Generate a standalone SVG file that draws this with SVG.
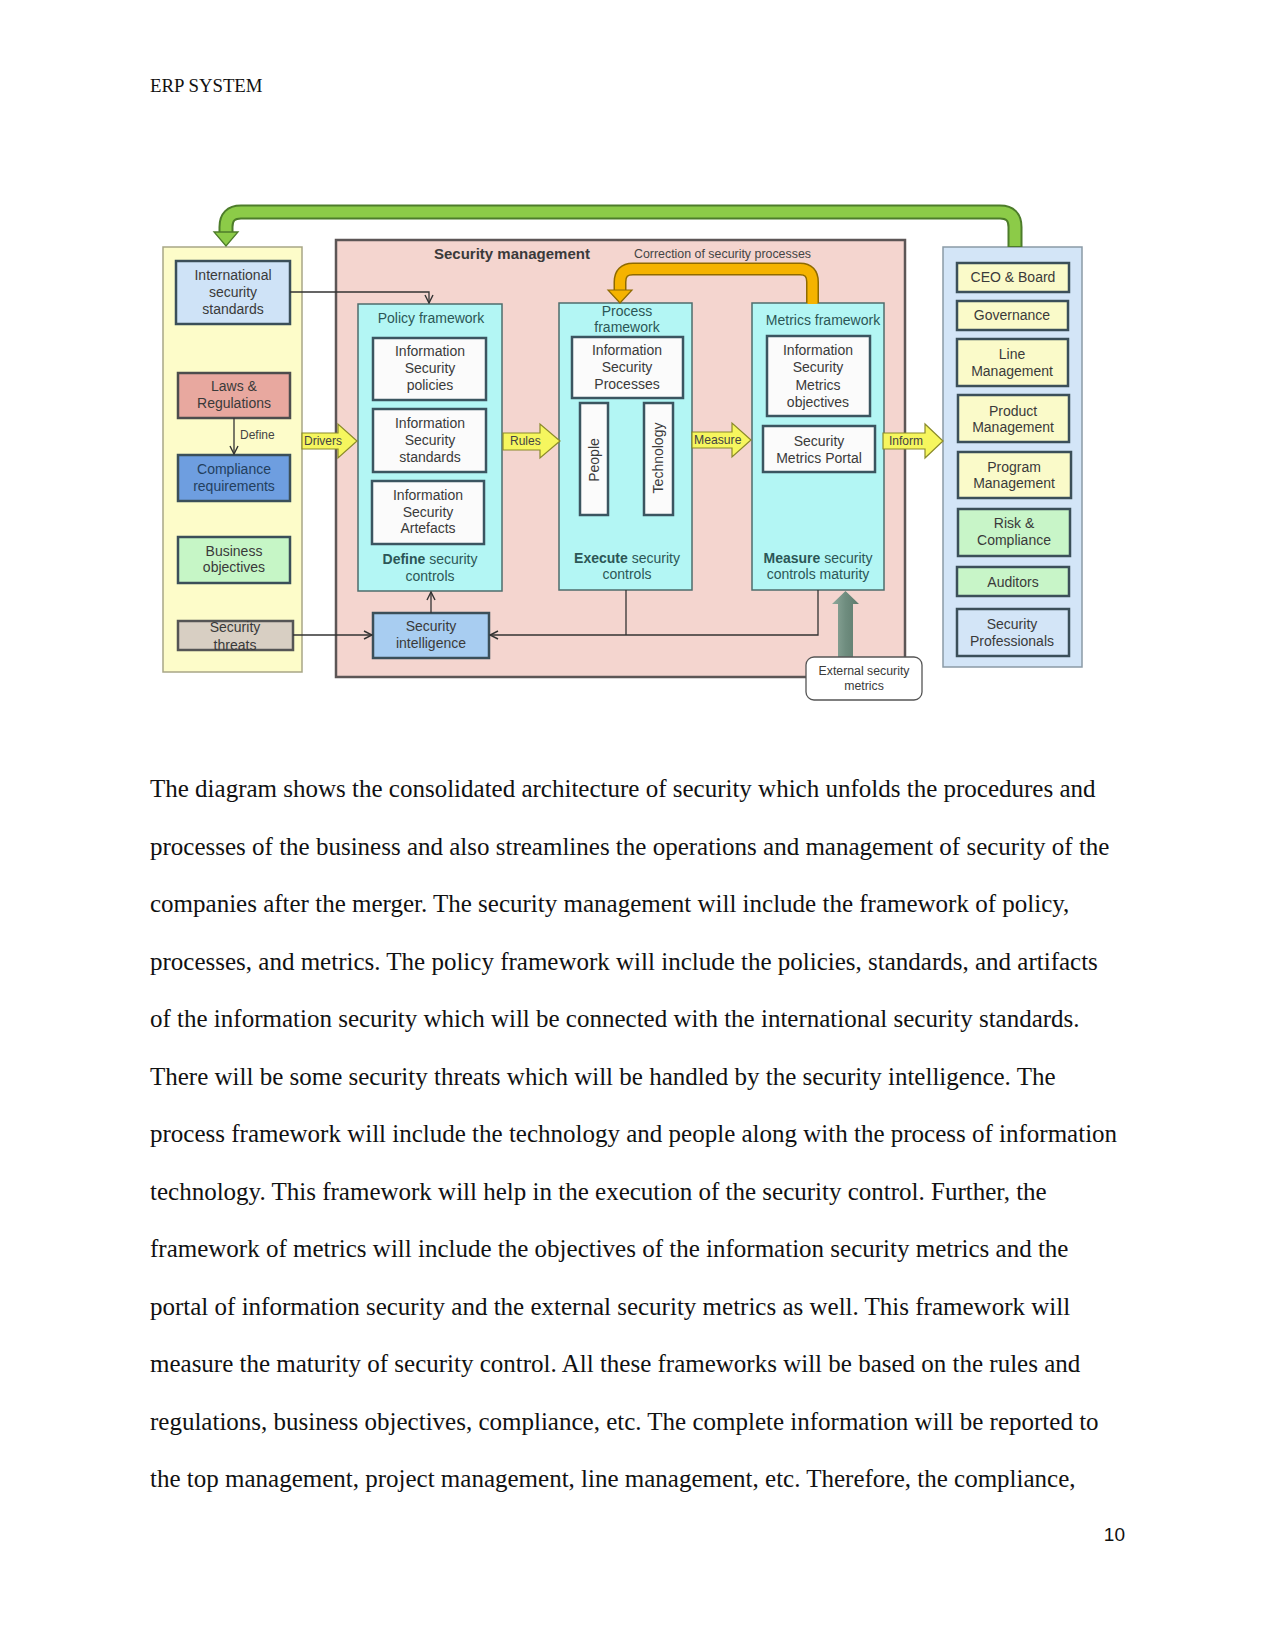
<svg xmlns="http://www.w3.org/2000/svg" width="1275" height="1651" viewBox="0 0 1275 1651">
<style>
.t{font-family:"Liberation Sans",Arial,sans-serif;font-size:14px;fill:#3a3a3a;text-anchor:middle}
.tl{font-family:"Liberation Sans",Arial,sans-serif;fill:#3a3a3a}
.teal{fill:#2c5656}
.b{font-weight:bold}
.box{stroke:#3b4f59;stroke-width:2.5}
.inner{fill:#fbfbfb;stroke:#3b5560;stroke-width:2.5}
.fw{fill:#b3f6f4;stroke:#4e6c6c;stroke-width:1.5}
.ya{fill:#f6f65e;stroke:#8a8a2a;stroke-width:1.2}
.ln{fill:none;stroke:#333;stroke-width:1.3}
.p{font-family:"Liberation Serif","Times New Roman",serif;font-size:25px;fill:#111}
</style>
<defs>
<marker id="v" viewBox="0 0 10 10" refX="9" refY="5" markerWidth="10" markerHeight="10" markerUnits="userSpaceOnUse" orient="auto">
<path d="M1,1 L9,5 L1,9" fill="none" stroke="#333" stroke-width="1.4"/>
</marker>
<linearGradient id="eg" x1="0" y1="0" x2="1" y2="0">
<stop offset="0" stop-color="#8fa99c"/><stop offset="0.5" stop-color="#6f8d7f"/><stop offset="1" stop-color="#5d7a6c"/>
</linearGradient>
</defs>
<rect width="1275" height="1651" fill="#fff"/>

<text x="150" y="92" font-family="Liberation Serif,serif" font-size="18.8" fill="#111">ERP SYSTEM</text>

<!-- panels -->
<g id="left-panel">
<rect x="163" y="247" width="139" height="425" fill="#fdfcc9" stroke="#a8a686" stroke-width="1.5"/>
</g>
<g id="security-management">
<rect x="336" y="240" width="569" height="437" fill="#f4d5cf" stroke="#5c5656" stroke-width="2.5"/>
<text class="tl b" x="434" y="259" font-size="15">Security management</text>
<text class="tl" x="634" y="258" font-size="12.4" style="fill:#444">Correction of security processes</text>
</g>
<g id="right-panel">
<rect x="943" y="247" width="139" height="420" fill="#d3e5f7" stroke="#8b9aa6" stroke-width="1.5"/>
</g>

<!-- left nodes -->
<g id="intl-standards">
<rect class="box" x="176" y="261" width="114" height="63" fill="#cfe3f7"/>
<text class="t" x="233" y="280">International</text>
<text class="t" x="233" y="297">security</text>
<text class="t" x="233" y="314">standards</text>
</g>
<g id="laws">
<rect class="box" x="178" y="373" width="112" height="45" fill="#e8a89f" style="stroke:#4d4d4d"/>
<text class="t" x="234" y="391">Laws &amp;</text>
<text class="t" x="234" y="408">Regulations</text>
</g>
<g id="compliance-req">
<rect class="box" x="178" y="455" width="112" height="46" fill="#6e9ee0"/>
<text class="t" x="234" y="474" style="fill:#23405e">Compliance</text>
<text class="t" x="234" y="491" style="fill:#23405e">requirements</text>
</g>
<g id="business-objectives">
<rect class="box" x="178" y="537" width="112" height="46" fill="#c6f6c6"/>
<text class="t" x="234" y="556">Business</text>
<text class="t" x="234" y="572">objectives</text>
</g>
<g id="security-threats">
<rect class="box" x="178" y="621" width="115" height="29" fill="#d8cfc3" style="stroke:#555"/>
<text class="t" x="235" y="632">Security</text>
<text class="t" x="235" y="650">threats</text>
</g>

<!-- policy framework -->
<g id="policy-framework">
<rect class="fw" x="358" y="304" width="144" height="287"/>
<text class="t teal" x="431" y="323">Policy framework</text>
<rect class="inner" x="373" y="338" width="113" height="62"/>
<text class="t" x="430" y="356">Information</text>
<text class="t" x="430" y="373">Security</text>
<text class="t" x="430" y="390">policies</text>
<rect class="inner" x="373" y="409" width="113" height="63"/>
<text class="t" x="430" y="428">Information</text>
<text class="t" x="430" y="445">Security</text>
<text class="t" x="430" y="462">standards</text>
<rect class="inner" x="372" y="481" width="112" height="63"/>
<text class="t" x="428" y="500">Information</text>
<text class="t" x="428" y="517">Security</text>
<text class="t" x="428" y="533">Artefacts</text>
<text class="t teal" x="430" y="564"><tspan font-weight="bold">Define</tspan> security</text>
<text class="t teal" x="430" y="581">controls</text>
</g>
<g id="security-intelligence">
<rect class="box" x="373" y="613" width="116" height="45" fill="#a8cdf1"/>
<text class="t" x="431" y="631">Security</text>
<text class="t" x="431" y="648">intelligence</text>
</g>

<!-- process framework -->
<g id="process-framework">
<rect class="fw" x="559" y="303" width="133" height="287"/>
<text class="t teal" x="627" y="316">Process</text>
<text class="t teal" x="627" y="332">framework</text>
<rect class="inner" x="572" y="337" width="111" height="61"/>
<text class="t" x="627" y="355">Information</text>
<text class="t" x="627" y="372">Security</text>
<text class="t" x="627" y="389">Processes</text>
<rect class="inner" x="580" y="403" width="28" height="112"/>
<text class="t" transform="translate(599,460) rotate(-90)">People</text>
<rect class="inner" x="644" y="403" width="29" height="112"/>
<text class="t" transform="translate(663,458) rotate(-90)">Technology</text>
<text class="t teal" x="627" y="563"><tspan font-weight="bold">Execute</tspan> security</text>
<text class="t teal" x="627" y="579">controls</text>
</g>

<!-- metrics framework -->
<g id="metrics-framework">
<rect class="fw" x="752" y="303" width="132" height="287"/>
<text class="t teal" x="823" y="325">Metrics framework</text>
<rect class="inner" x="767" y="336" width="103" height="80"/>
<text class="t" x="818" y="355">Information</text>
<text class="t" x="818" y="372">Security</text>
<text class="t" x="818" y="390">Metrics</text>
<text class="t" x="818" y="407">objectives</text>
<rect class="inner" x="763" y="426" width="112" height="46"/>
<text class="t" x="819" y="446">Security</text>
<text class="t" x="819" y="463">Metrics Portal</text>
<text class="t teal" x="818" y="563"><tspan font-weight="bold">Measure</tspan> security</text>
<text class="t teal" x="818" y="579">controls maturity</text>
</g>

<!-- external metrics -->
<g id="external-metrics">
<polygon points="838,658 838,604 832,604 845.5,591 859,604 853,604 853,658" fill="url(#eg)"/>
<rect x="806" y="657" width="116" height="43" rx="8" fill="#fff" stroke="#555" stroke-width="1.3"/>
<text class="t" x="864" y="675" style="font-size:12.3px">External security</text>
<text class="t" x="864" y="690" style="font-size:12.3px">metrics</text>
</g>

<!-- right nodes -->
<g id="ceo-board">
<rect class="box" x="957" y="263" width="112" height="29" fill="#fafac9"/>
<text class="t" x="1013" y="282">CEO &amp; Board</text>
</g>
<g id="governance">
<rect class="box" x="957" y="301" width="111" height="29" fill="#fafac9"/>
<text class="t" x="1012" y="320">Governance</text>
</g>
<g id="line-management">
<rect class="box" x="957" y="339" width="111" height="47" fill="#fafac9"/>
<text class="t" x="1012" y="359">Line</text>
<text class="t" x="1012" y="376">Management</text>
</g>
<g id="product-management">
<rect class="box" x="958" y="395" width="111" height="47" fill="#fafac9"/>
<text class="t" x="1013" y="416">Product</text>
<text class="t" x="1013" y="432">Management</text>
</g>
<g id="program-management">
<rect class="box" x="958" y="452" width="113" height="46" fill="#fafac9"/>
<text class="t" x="1014" y="472">Program</text>
<text class="t" x="1014" y="488">Management</text>
</g>
<g id="risk-compliance">
<rect class="box" x="958" y="509" width="112" height="47" fill="#c8f5c8"/>
<text class="t" x="1014" y="528">Risk &amp;</text>
<text class="t" x="1014" y="545">Compliance</text>
</g>
<g id="auditors">
<rect class="box" x="957" y="567" width="112" height="29" fill="#c8f5c8"/>
<text class="t" x="1013" y="587">Auditors</text>
</g>
<g id="security-professionals">
<rect class="box" x="957" y="609" width="112" height="47" fill="#d3e5f7"/>
<text class="t" x="1012" y="629">Security</text>
<text class="t" x="1012" y="646">Professionals</text>
</g>

<!-- connectors -->
<g id="connectors">
<polyline class="ln" points="290,292 429,292 429,303" marker-end="url(#v)"/>
<line class="ln" x1="234" y1="418" x2="234" y2="454" marker-end="url(#v)"/>
<text class="tl" x="240" y="439" font-size="12" style="fill:#444">Define</text>
<line class="ln" x1="293" y1="635" x2="372" y2="635" marker-end="url(#v)"/>
<line class="ln" x1="431" y1="613" x2="431" y2="592" marker-end="url(#v)"/>
<line class="ln" x1="626" y1="590" x2="626" y2="635"/>
<polyline class="ln" points="818,590 818,635 490,635" marker-end="url(#v)"/>

<polygon class="ya" points="302,433 338,433 338,424 357,441 338,458 338,449 302,449"/>
<text class="tl" x="304" y="445" font-size="12" style="fill:#444">Drivers</text>
<polygon class="ya" points="503,433 540,433 540,424 560,441 540,458 540,450 503,450"/>
<text class="tl" x="510" y="445" font-size="12" style="fill:#444">Rules</text>
<polygon class="ya" points="692,432 732,432 732,423 751,440 732,457 732,448 692,448"/>
<text class="tl" x="694" y="444" font-size="12.2" style="fill:#444">Measure</text>
<polygon class="ya" points="883,433 925,433 925,424 943,441 925,458 925,449 883,449"/>
<text class="tl" x="889" y="445" font-size="12" style="fill:#444">Inform</text>

<path d="M812.5,303 V282 Q812.5,269 800,269 H633 Q620,269 620,282 V291" fill="none" stroke="#8f6a00" stroke-width="13"/>
<path d="M812.5,304 V282 Q812.5,269 800,269 H633 Q620,269 620,282 V292" fill="none" stroke="#f5b300" stroke-width="10"/>
<polygon points="608,290 632,290 620,303" fill="#f5b300" stroke="#8f6a00" stroke-width="1.2"/>

<path d="M1015,247 V227 Q1015,212 1000,212 H241 Q226,212 226,227 V233" fill="none" stroke="#4d7c2a" stroke-width="15"/>
<path d="M1015,246 V227 Q1015,212 1000,212 H241 Q226,212 226,227 V234" fill="none" stroke="#8ccb48" stroke-width="11"/>
<polygon points="214,232 238,232 226,246" fill="#8ccb48" stroke="#4d7c2a" stroke-width="1.3"/>
</g>

<!-- body text -->
<g id="paragraph">
<text class="p" x="150" y="797">The diagram shows the consolidated architecture of security which unfolds the procedures and</text>
<text class="p" x="150" y="854.5">processes of the business and also streamlines the operations and management of security of the</text>
<text class="p" x="150" y="912">companies after the merger. The security management will include the framework of policy,</text>
<text class="p" x="150" y="969.5">processes, and metrics. The policy framework will include the policies, standards, and artifacts</text>
<text class="p" x="150" y="1027">of the information security which will be connected with the international security standards.</text>
<text class="p" x="150" y="1084.5">There will be some security threats which will be handled by the security intelligence. The</text>
<text class="p" x="150" y="1142">process framework will include the technology and people along with the process of information</text>
<text class="p" x="150" y="1199.5">technology. This framework will help in the execution of the security control. Further, the</text>
<text class="p" x="150" y="1257">framework of metrics will include the objectives of the information security metrics and the</text>
<text class="p" x="150" y="1314.5">portal of information security and the external security metrics as well. This framework will</text>
<text class="p" x="150" y="1372">measure the maturity of security control. All these frameworks will be based on the rules and</text>
<text class="p" x="150" y="1429.5">regulations, business objectives, compliance, etc. The complete information will be reported to</text>
<text class="p" x="150" y="1487">the top management, project management, line management, etc. Therefore, the compliance,</text>
</g>
<text x="1125" y="1541" font-family="Liberation Sans,sans-serif" font-size="19" fill="#111" text-anchor="end">10</text>
</svg>
